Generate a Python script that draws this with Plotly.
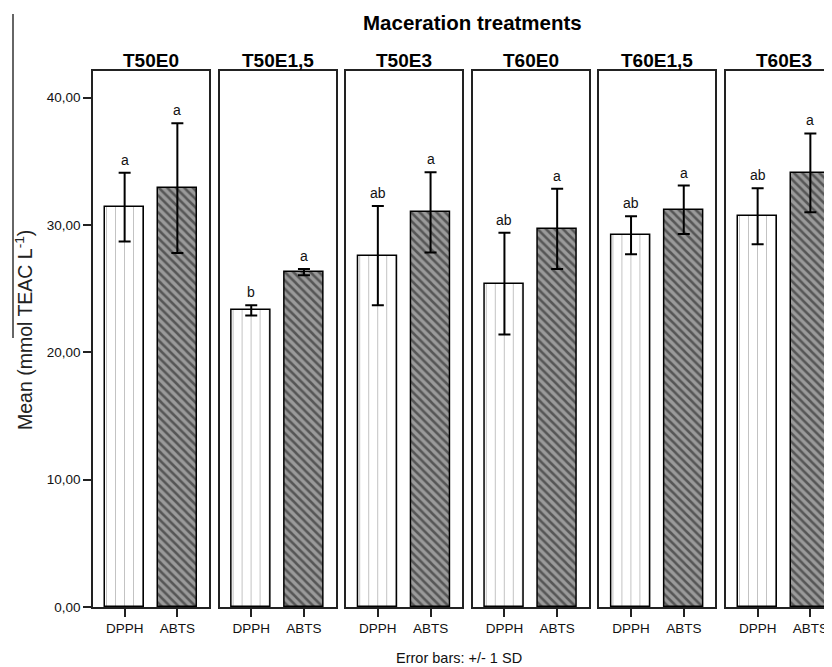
import plotly.graph_objects as go

# ---------------- data ----------------
treatments = ["T50E0", "T50E1,5", "T50E3", "T60E0", "T60E1,5", "T60E3"]
methods = ["DPPH", "ABTS"]
dpph_mean = [31.4, 23.3, 27.6, 25.4, 29.2, 30.7]
dpph_sd = [2.7, 0.4, 3.9, 4.0, 1.5, 2.2]
abts_mean = [32.9, 26.3, 31.0, 29.7, 31.2, 34.1]
abts_sd = [5.1, 0.25, 3.15, 3.15, 1.9, 3.1]
dpph_letters = ["a", "b", "ab", "ab", "ab", "ab"]
abts_letters = ["a", "a", "a", "a", "a", "a"]
y_ticks = [0, 10, 20, 30, 40]
y_ticklabels = ["0,00", "10,00", "20,00", "30,00", "40,00"]

# ---------------- layout geometry (pixels) ----------------
OFF = 8                      # default page body margin
W, H = 832 - OFF, 667 - OFF
ML, MR, MT, MB = 93 - OFF, 0, 71 - OFF, 60
PW = W - ML - MR
PH = H - MT - MB
STEP = 126.6
PANEL_W = 116.0
XR = [-0.6, 1.6]
FONT = "Arial, Liberation Sans, sans-serif"


def px_x(xp):
    return (xp - OFF - ML) / PW


def px_y(yp):
    return (H - MB - (yp - OFF)) / PH


fig = go.Figure()
layout = {}
annotations = []

for i, t in enumerate(treatments):
    k = "" if i == 0 else str(i + 1)
    xa, ya = "x" + k, "y" + k
    left = i * STEP
    right = left + PANEL_W
    xr = list(XR)
    last = right > PW
    if last:
        xr[1] = XR[0] + (XR[1] - XR[0]) * (PW - left) / PANEL_W
        right = PW
    dom = [left / PW, right / PW]

    fig.add_trace(go.Bar(
        x=[0], y=[dpph_mean[i]], width=0.75, xaxis=xa, yaxis=ya,
        error_y=dict(type="data", array=[dpph_sd[i]], color="black", thickness=2, width=6),
        marker=dict(color="white", line=dict(color="black", width=1.5),
                    pattern=dict(shape="|", bgcolor="white", fgcolor="#6a6a6a", size=9, solidity=0.09)),
        showlegend=False, hoverinfo="skip"))
    fig.add_trace(go.Bar(
        x=[1], y=[abts_mean[i]], width=0.75, xaxis=xa, yaxis=ya,
        error_y=dict(type="data", array=[abts_sd[i]], color="black", thickness=2, width=6),
        marker=dict(color="#8c8c8c", line=dict(color="black", width=1.5),
                    pattern=dict(shape="\\", bgcolor="#9a9a9a", fgcolor="#111111", size=6, solidity=0.42)),
        showlegend=False, hoverinfo="skip"))

    layout["xaxis" + k] = dict(
        domain=dom, range=xr, anchor=ya, showgrid=False, zeroline=False,
        showline=True, linecolor="#222", linewidth=1.6, mirror=True,
        tickmode="array", tickvals=[0, 1], ticktext=methods,
        ticks="outside", ticklen=8, tickwidth=1.6, tickcolor="#222",
        tickfont=dict(family=FONT, size=13.5, color="#111"), fixedrange=True)
    layout["yaxis" + k] = dict(
        domain=[0, 1], range=[0, 42.1], anchor=xa, showgrid=False, zeroline=False,
        showline=True, linecolor="#222", linewidth=1.6, mirror=not last,
        tickmode="array", tickvals=y_ticks, ticktext=y_ticklabels,
        ticks="outside" if i == 0 else "", ticklen=8, tickwidth=1.6, tickcolor="#222",
        showticklabels=(i == 0),
        tickfont=dict(family=FONT, size=13.5, color="#111"), fixedrange=True)

    # panel title
    annotations.append(dict(
        text="<b>%s</b>" % t, xref=xa + " domain", yref="paper",
        x=(PANEL_W / 2) / (right - left) if last else 0.5, y=1, yanchor="bottom", yshift=-2,
        showarrow=False, font=dict(family=FONT, size=19, color="black")))
    # significance letters
    annotations.append(dict(
        text=dpph_letters[i], xref=xa, yref=ya, x=0, y=dpph_mean[i] + dpph_sd[i],
        yanchor="bottom", yshift=3, showarrow=False,
        font=dict(family=FONT, size=14, color="#111")))
    annotations.append(dict(
        text=abts_letters[i], xref=xa, yref=ya, x=1, y=abts_mean[i] + abts_sd[i],
        yanchor="bottom", yshift=3, showarrow=False,
        font=dict(family=FONT, size=14, color="#111")))

annotations.append(dict(
    text="<b>Maceration treatments</b>", xref="paper", yref="paper",
    x=px_x(472), y=px_y(23), xanchor="center", yanchor="middle",
    showarrow=False, font=dict(family=FONT, size=20.5, color="black")))
annotations.append(dict(
    text="Mean (mmol TEAC L<sup>-1</sup>)", xref="paper", yref="paper",
    x=px_x(24), y=px_y(330), textangle=-90,
    xanchor="center", yanchor="middle", showarrow=False,
    font=dict(family=FONT, size=19.5, color="#222")))
annotations.append(dict(
    text="Error bars: +/- 1 SD", xref="paper", yref="paper",
    x=px_x(459), y=px_y(658), xanchor="center", yanchor="middle",
    showarrow=False, font=dict(family=FONT, size=14.5, color="#111")))

shapes = [dict(type="line", xref="paper", yref="paper",
               x0=px_x(13), x1=px_x(13), y0=px_y(14), y1=px_y(338),
               line=dict(color="#666", width=2))]

fig.update_layout(
    **layout,
    width=W, height=H,
    margin=dict(l=ML, r=MR, t=MT, b=MB, pad=0),
    plot_bgcolor="white", paper_bgcolor="white",
    barmode="overlay", bargap=0,
    annotations=annotations, shapes=shapes,
    showlegend=False,
)

fig.write_html("out.html", config={"displayModeBar": False})
